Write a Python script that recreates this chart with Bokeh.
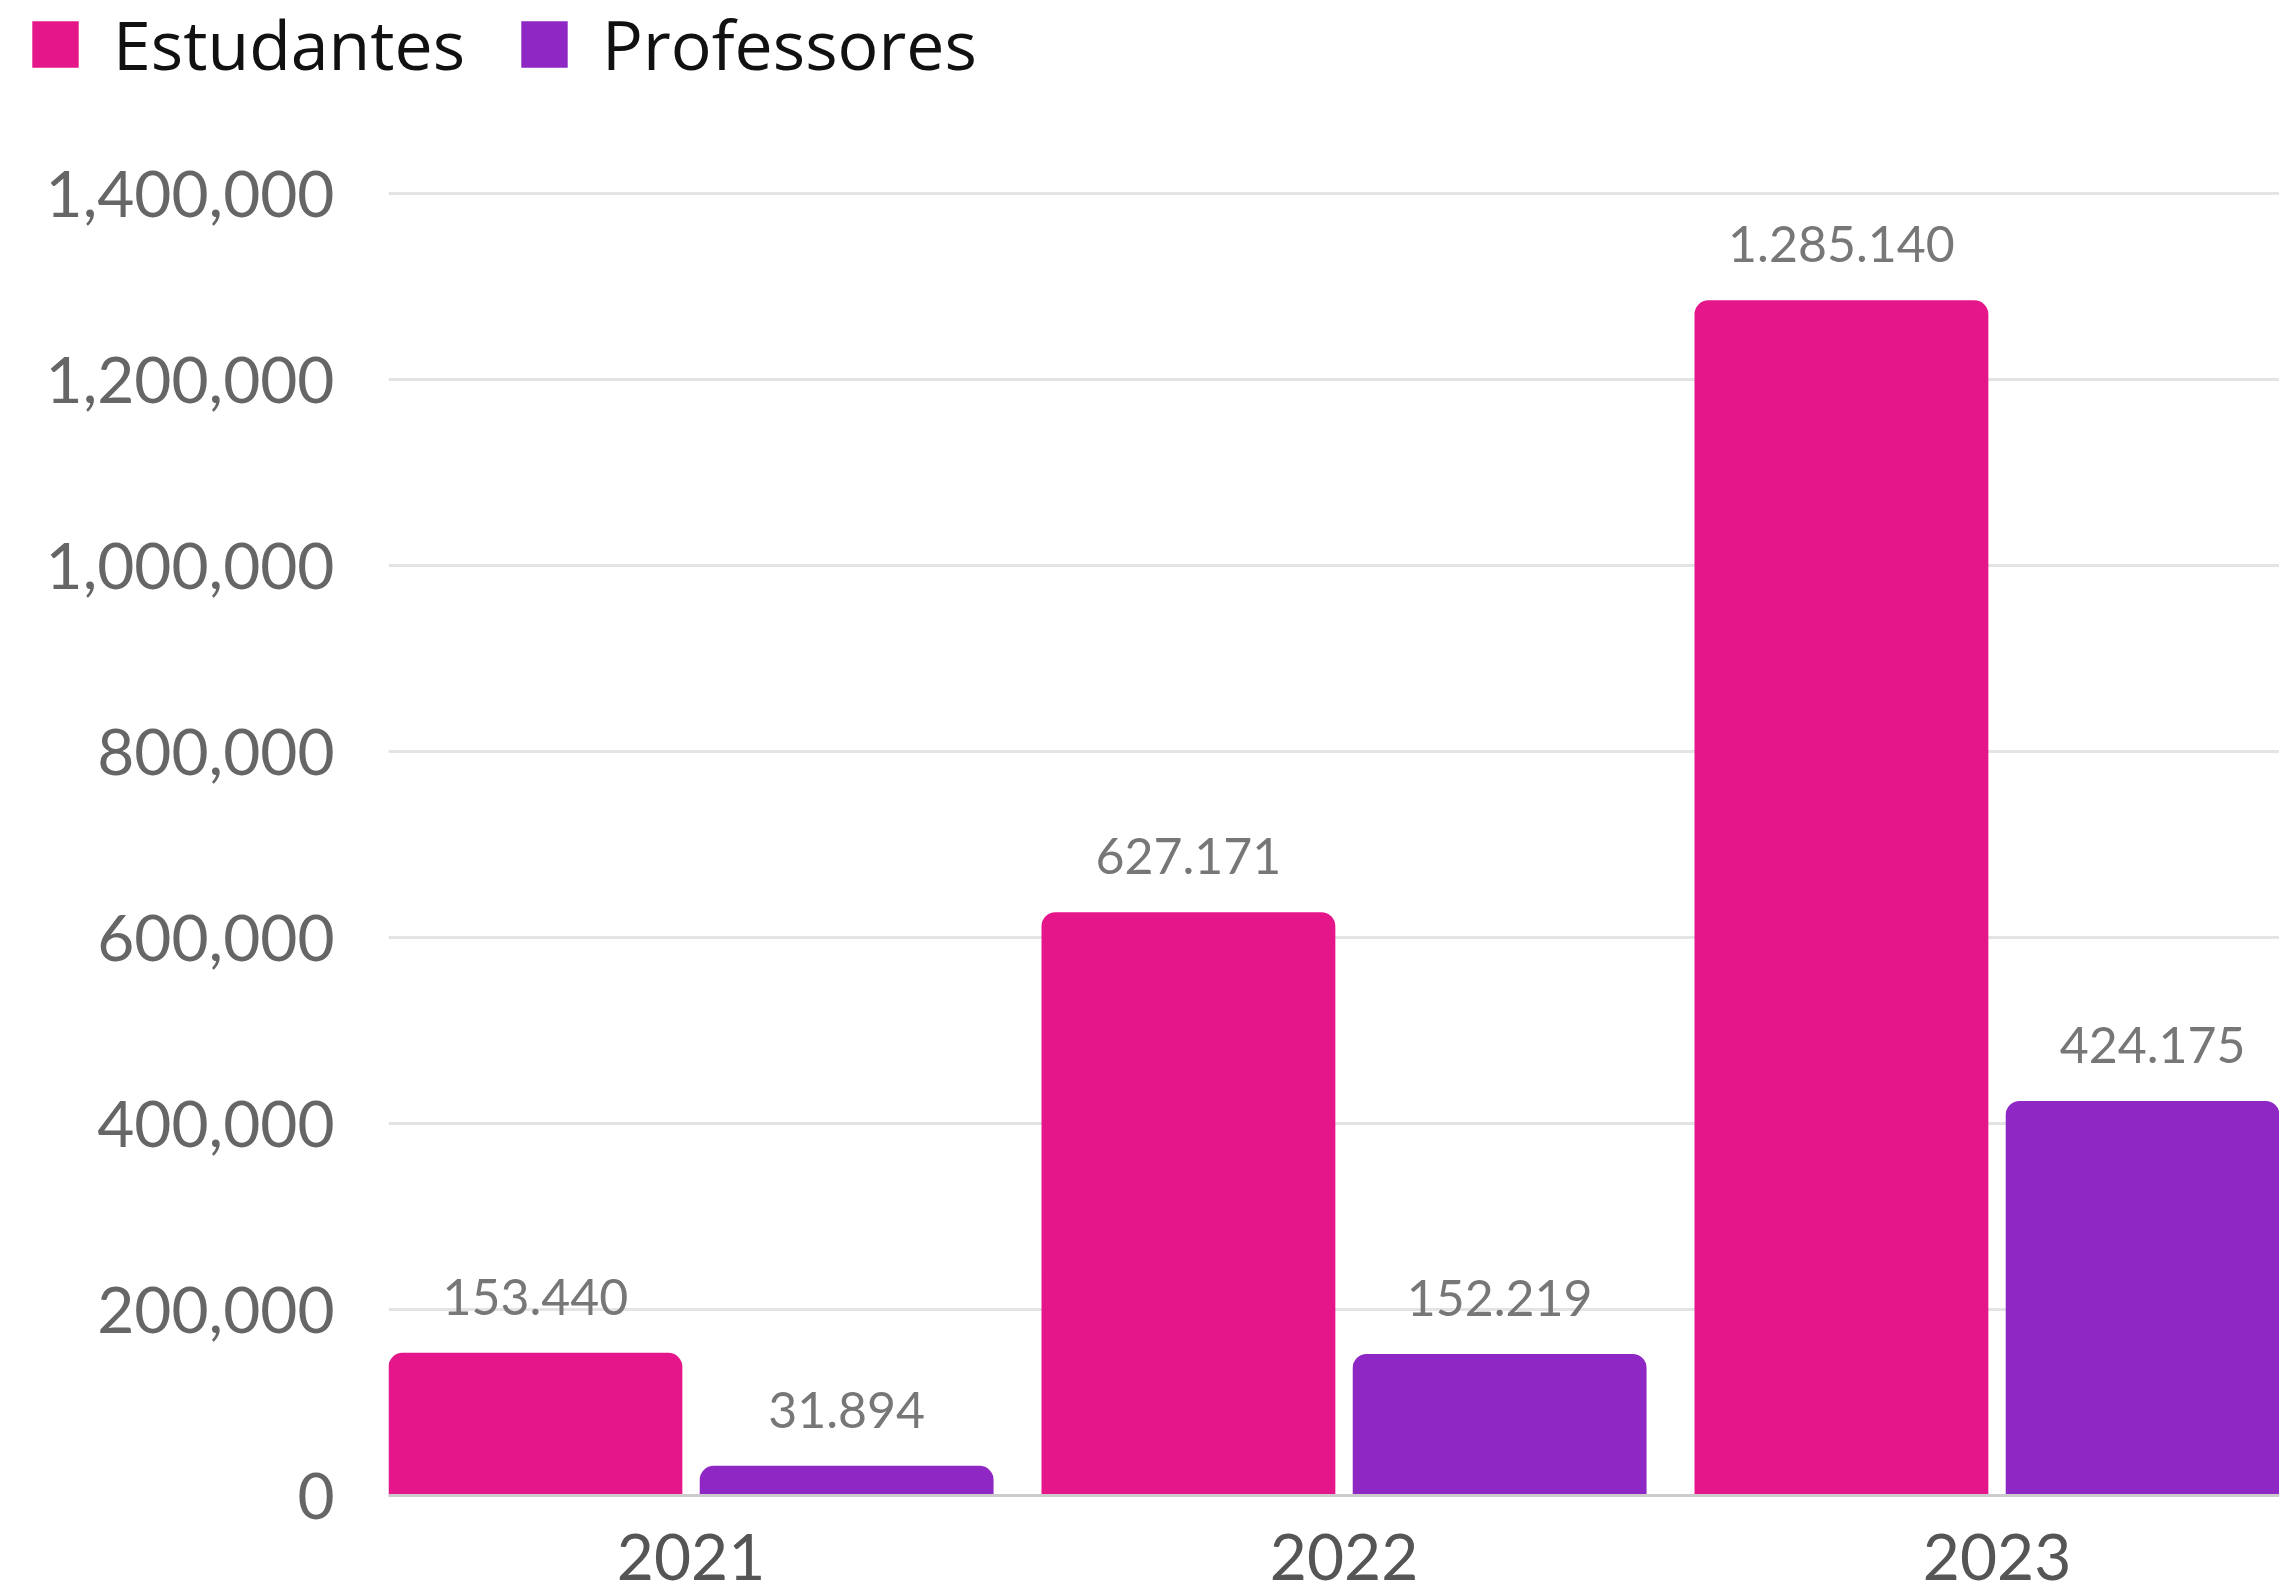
from bokeh.plotting import figure
from bokeh.layouts import column
from bokeh.models import (ColumnDataSource, FixedTicker, NumeralTickFormatter, Legend, LegendItem, Range1d)
from bokeh.embed import file_html
from bokeh.resources import INLINE
from bokeh.core.properties import value

years = ["2021", "2022", "2023"]
estudantes = [153440, 627171, 1285140]
professores = [31894, 152219, 424175]
y_ticks = [0, 200000, 400000, 600000, 800000, 1000000, 1200000, 1400000]
series_names = ["Estudantes", "Professores"]

PINK = "#E4168A"
PURPLE = "#8E27C3"

def fmt(v):
    return f"{v:,}".replace(",", ".")

xs = list(range(len(years)))
OFF = 0.2383
W = 0.45
src_e = ColumnDataSource(dict(x=[i - OFF for i in xs], top=estudantes, lbl=[fmt(v) for v in estudantes]))
src_p = ColumnDataSource(dict(x=[i + OFF for i in xs], top=professores, lbl=[fmt(v) for v in professores]))

TOTAL_W = 2279
LEG_H = 110
LEFT = 388
FRAME_W = TOTAL_W - LEFT
PAD_PX = 6
FRAME_H = 1302 + PAD_PX
x_start = -OFF - W / 2
x_end = x_start + FRAME_W / 653.0
y_end = 1400000 * FRAME_H / 1302.0

# ---- legend strip (its bars lie below its view; only the legend shows) ----
lg = figure(frame_width=TOTAL_W, frame_height=LEG_H, output_backend="svg", toolbar_location=None,
            x_axis_location=None, y_axis_location=None,
            x_range=Range1d(x_start, x_end), y_range=Range1d(2000000, 3000000),
            min_border_left=0, min_border_right=0, min_border_top=0, min_border_bottom=0)
lg.outline_line_color = None
lg.xgrid.grid_line_color = None
lg.ygrid.grid_line_color = None
lr_e = lg.vbar(x="x", top="top", width=W, source=src_e, fill_color=PINK, line_color=None)
lr_p = lg.vbar(x="x", top="top", width=W, source=src_p, fill_color=PURPLE, line_color=None)
legend = Legend(items=[LegendItem(label=series_names[0], renderers=[lr_e]),
                       LegendItem(label=series_names[1], renderers=[lr_p])],
                orientation="horizontal", location=(26, 20),
                glyph_width=58, glyph_height=58, label_height=58, label_standoff=29, spacing=50,
                padding=0, margin=0, border_line_color=None, background_fill_alpha=0,
                label_text_font="Open Sans", label_text_font_size="68px", label_text_color="#111111",
                label_text_baseline="middle")
lg.add_layout(legend, "center")

# ---- main chart ----
p = figure(frame_width=FRAME_W, frame_height=FRAME_H, output_backend="svg", toolbar_location=None,
           x_range=Range1d(x_start, x_end), y_range=Range1d(0, y_end),
           min_border_left=LEFT, min_border_right=0, min_border_top=193 - PAD_PX - LEG_H, min_border_bottom=0)
p.outline_line_color = None
p.background_fill_color = "white"
p.border_fill_color = "white"

r_e = p.vbar(x="x", top="top", width=W, source=src_e, fill_color=PINK, line_color=None,
             border_radius=(14, 14, 0, 0))
r_p = p.vbar(x="x", top="top", width=W, source=src_p, fill_color=PURPLE, line_color=None,
             border_radius=(14, 14, 0, 0))

for src in (src_e, src_p):
    p.text(x="x", y="top", text="lbl", source=src, text_align="center", text_baseline="alphabetic",
           y_offset=-56, text_font=value("Lato"), text_font_size="50px", text_color="#777777")

p.xaxis.ticker = FixedTicker(ticks=xs)
p.xaxis.major_label_overrides = {i: y for i, y in zip(xs, years)}
p.xaxis.major_label_text_font = "Lato"
p.xaxis.major_label_text_font_size = "64px"
p.xaxis.major_label_text_color = "#555555"
p.xaxis.axis_line_color = "#cccccc"
p.xaxis.axis_line_width = 3
p.xaxis.major_tick_line_color = None
p.xaxis.minor_tick_line_color = None
p.xaxis.major_label_standoff = 32

p.yaxis.ticker = FixedTicker(ticks=y_ticks)
p.yaxis.formatter = NumeralTickFormatter(format="0,0")
p.yaxis.major_label_text_font = "Lato"
p.yaxis.major_label_text_font_size = "64px"
p.yaxis.major_label_text_color = "#666666"
p.yaxis.axis_line_color = None
p.yaxis.major_tick_line_color = None
p.yaxis.minor_tick_line_color = None
p.yaxis.major_label_standoff = 48

p.xgrid.grid_line_color = None
p.ygrid.grid_line_color = "#e4e4e4"
p.ygrid.grid_line_width = 3

layout = column(column(lg), p, spacing=0)
open("out.html", "w").write(file_html(layout, INLINE))
